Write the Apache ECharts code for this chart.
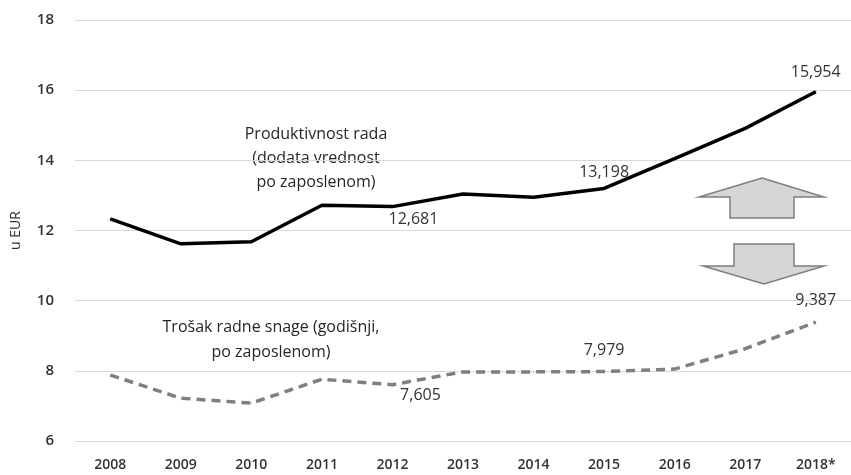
<!DOCTYPE html>
<html>
<head>
<meta charset="utf-8">
<script src="https://cdn.jsdelivr.net/npm/echarts@6/dist/echarts.min.js"></script>
<style>
  html, body { margin: 0; padding: 0; background: #fff; }
  #container { width: 851px; height: 475px; }
</style>
</head>
<body>
<div id="container"></div>
<script>
  // podaci
  var years = ['2008', '2009', '2010', '2011', '2012', '2013', '2014', '2015', '2016', '2017', '2018*'];
  var productivity = [12.33, 11.62, 11.68, 12.72, 12.681, 13.04, 12.95, 13.198, 14.05, 14.91, 15.954];
  var laborCost = [7.88, 7.22, 7.08, 7.76, 7.605, 7.97, 7.97, 7.979, 8.05, 8.63, 9.387];
  var yTicks = [6, 8, 10, 12, 14, 16, 18];

  var font = '"Open Sans", "DejaVu Sans", sans-serif';

  function fmt(v){
    return v.toFixed(3).replace('.', ',');
  }

  // oznake vrednosti: indeks -> pomeraj
  function withLabels(values, marks){
    return values.map(function(v, i){
      var m = marks[i];
      if(!m) return v;
      return {
        value: v,
        label: {
          show: true,
          position: 'top',
          offset: m,
          formatter: function(p){ return fmt(p.value); },
          fontFamily: font,
          fontSize: 16,
          color: '#333'
        }
      };
    });
  }

  var myChart = echarts.init(document.getElementById('container'));
  var option = {
    animation: false,
    grid: {
      top: 20,
      left: 75,
      width: 781,
      bottom: 34
    },
    xAxis: {
      type: 'category',
      data: years,
      boundaryGap: true,
      axisLine: { show: false },
      axisTick: { show: false },
      axisLabel: {
        margin: 17,
        fontFamily: font,
        fontSize: 14,
        fontWeight: 600,
        color: '#333'
      }
    },
    yAxis: {
      type: 'value',
      min: yTicks[0],
      max: yTicks[yTicks.length - 1],
      interval: 2,
      name: 'u EUR',
      nameLocation: 'middle',
      nameRotate: 90,
      nameGap: 52,
      nameTextStyle: { fontFamily: font, fontSize: 14, color: '#333' },
      axisLine: { show: false },
      axisTick: { show: false },
      splitLine: { lineStyle: { color: '#d9d9d9', width: 1 } },
      axisLabel: {
        margin: 21,
        fontFamily: font,
        fontSize: 15,
        fontWeight: 600,
        color: '#333'
      }
    },
    series: [{
      name: 'Produktivnost rada',
      type: 'line',
      data: withLabels(productivity, { 4: [21, 26], 7: [0, -3], 10: [0, -6] }),
      symbol: 'circle',
      symbolSize: 1,
      itemStyle: { color: '#000' },
      lineStyle: { color: '#000', width: 3.5 },
      z: 3
    }, {
      name: 'Trošak radne snage',
      type: 'line',
      data: withLabels(laborCost, { 4: [28, 24], 7: [0, -8], 10: [0, -8] }),
      symbol: 'circle',
      symbolSize: 1,
      itemStyle: { color: '#7f7f7f' },
      lineStyle: { color: '#7f7f7f', width: 3.5, type: [9, 6] },
      z: 2
    }],
    graphic: [{
      type: 'text',
      x: 316,
      y: 122,
      style: {
        text: 'Produktivnost rada\n(dodata vrednost\npo zaposlenom)',
        align: 'center',
        verticalAlign: 'top',
        lineHeight: 24,
        fontFamily: font,
        fontSize: 16,
        fill: '#262626'
      }
    }, {
      type: 'text',
      x: 271,
      y: 315,
      style: {
        text: 'Trošak radne snage (godišnji,\npo zaposlenom)',
        align: 'center',
        verticalAlign: 'top',
        lineHeight: 25,
        fontFamily: font,
        fontSize: 16,
        fill: '#262626'
      }
    }, {
      type: 'polygon',
      shape: { points: [[762, 178], [824, 197], [794, 197], [794, 218], [730, 218], [730, 197], [699, 197]] },
      style: { fill: '#d6d6d6', stroke: '#7f7f7f', lineWidth: 1.5 }
    }, {
      type: 'polygon',
      shape: { points: [[734, 244], [794, 244], [794, 266], [824, 266], [764, 284], [703, 266], [734, 266]] },
      style: { fill: '#d6d6d6', stroke: '#7f7f7f', lineWidth: 1.5 }
    }]
  };
  myChart.setOption(option);
</script>
</body>
</html>
